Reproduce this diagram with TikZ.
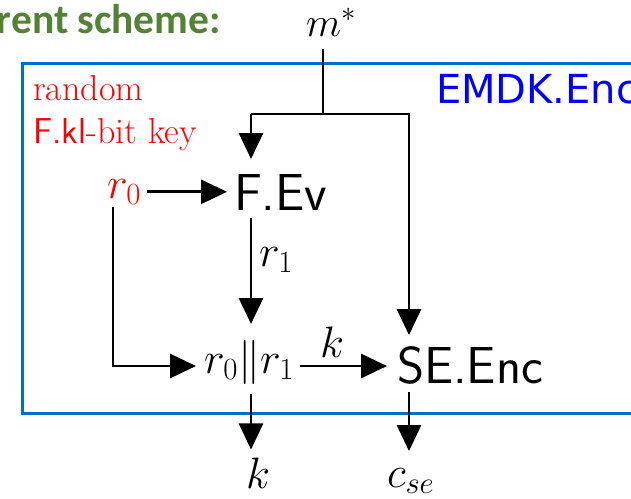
\RequirePackage{fix-cm}
\documentclass[tikz,border=0pt]{standalone}
\usepackage{fontspec}
\usetikzlibrary{arrows.meta}
\newfontfamily\titlefont{Carlito}
\newfontfamily\emdkfont{DejaVu Sans}
\definecolor{titlegreen}{RGB}{84,130,53}
\definecolor{boxblue}{RGB}{0,112,192}
\definecolor{labelblue}{RGB}{0,0,255}
\definecolor{keyred}{RGB}{255,0,0}
\begin{document}
\begin{tikzpicture}[x=1pt,y=-1pt,
  txt/.style={inner sep=0pt,outer sep=0pt,anchor=base west},
  mathlbl/.style={txt,font=\fontsize{44}{52}\selectfont},
  sfbig/.style={txt,font=\sffamily\fontsize{52}{60}\selectfont},
  redtxt/.style={txt,text=keyred,font=\fontsize{36}{43}\selectfont},
  conn/.style={line width=2.8pt,line join=miter},
  arr/.style={conn,-{Triangle[length=26pt,width=24pt]}},
  frame/.style={draw=boxblue,line width=3pt}]
\useasboundingbox (0,0) rectangle (631,498);
\clip (0,0) rectangle (631,498);
% frame
\draw[frame] (640,413) -- (22,413) -- (22,63) -- (640,63);
% texts
\node[txt,anchor=base east,text=titlegreen,font=\titlefont\bfseries\fontsize{41.5}{48}\selectfont] (title) at (221,33) {rent scheme:};
\node[mathlbl,font=\fontsize{41}{48}\selectfont] (mstar) at (306,36) {$m^*$};
\node[txt,text=labelblue,font=\emdkfont\fontsize{40}{46}\selectfont] (emdk) at (436,103) {EMDK.Enc};
\node[redtxt] (rand) at (33,100) {random};
\node[redtxt] (fkl) at (33,143) {{\sffamily F.kl}-bit key};
\node[mathlbl,text=keyred] (r0) at (107,198) {$r_0$};
\node[sfbig] (Fev) at (234,210) {F.Ev};
\node[mathlbl] (r1) at (259,266) {$r_1$};
\node[mathlbl] (cat) at (204,373) {$r_0\|r_1$};
\node[mathlbl] (klbl) at (320,357) {$k$};
\node[sfbig] (SE) at (397,383) {SE.Enc};
\node[mathlbl] (kout) at (246,488) {$k$};
\node[mathlbl] (cse) at (387,487) {$c_{se}$};
% junction coordinates
\coordinate (mj) at (323,114);
\coordinate (lj) at (251,114);
\coordinate (rj) at (409,114);
\coordinate (rl) at (113,366);
% connectors
\draw[conn,shorten <=13pt] (mstar.south -| mj) -- (mj);
\draw[arr,shorten >=15pt] (lj) -- (lj |- Fev.north);
\draw[arr,shorten >=11pt] (lj) -- (rj) -- (rj |- SE.north);
\draw[arr,shorten <=6pt,shorten >=7pt] (r0.east) -- (r0.east -| Fev.west);
\draw[arr,shorten <=2pt,shorten >=8pt] (r0.south -| rl) -- (rl) -- (rl -| cat.west);
\draw[arr,shorten <=6pt,shorten >=10pt] (cat.east |- rl) -- (SE.west |- rl);
\draw[arr,shorten <=8pt,shorten >=16pt] (Fev.south -| lj) -- (cat.north -| lj);
\draw[arr,shorten <=10pt,shorten >=8pt] (cat.south -| lj) -- (kout.north -| lj);
\draw[arr,shorten <=8pt,shorten >=17pt] (SE.south -| rj) -- (cse.north -| rj);
\end{tikzpicture}
\end{document}
